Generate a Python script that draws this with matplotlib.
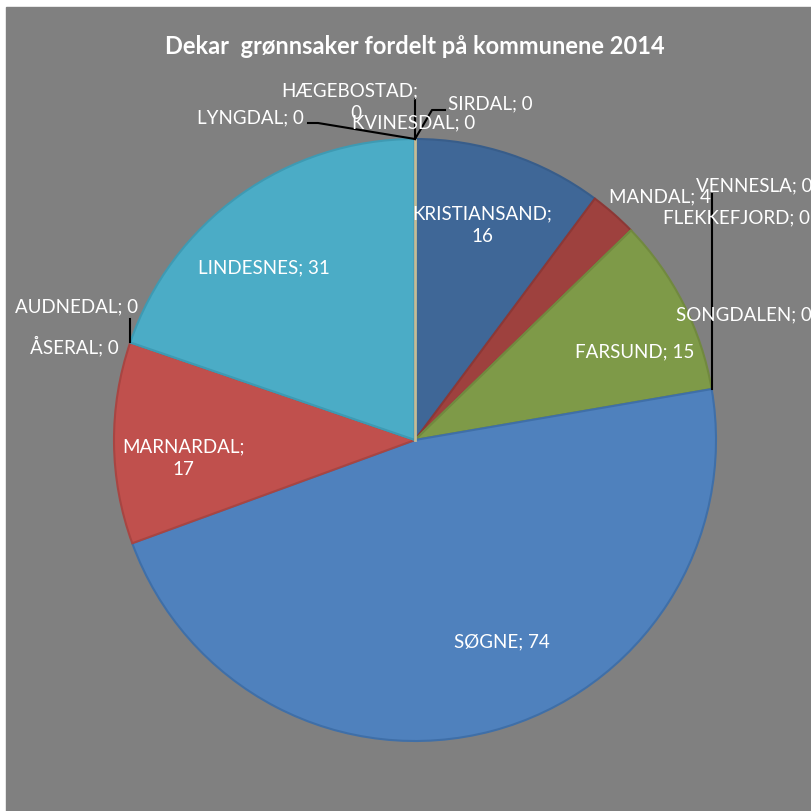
import matplotlib.pyplot as plt
import numpy as np

# data
kommuner = ['KRISTIANSAND', 'MANDAL', 'VENNESLA', 'FLEKKEFJORD', 'FARSUND', 'SONGDALEN',
            'SØGNE', 'MARNARDAL', 'ÅSERAL', 'AUDNEDAL', 'LINDESNES', 'LYNGDAL',
            'HÆGEBOSTAD', 'KVINESDAL', 'SIRDAL']
dekar = [16, 4, 0, 0, 15, 0, 74, 17, 0, 0, 31, 0, 0, 0, 0]
farger = ['#3F6797', '#9E413E', '#7E9A48', '#7E9A48', '#7E9A48', '#7E9A48',
          '#4F81BD', '#C0504D', '#C0504D', '#4BACC6', '#4BACC6', '#4BACC6',
          '#4BACC6', '#3F6797', '#3F6797']
kanter = ['#385D8A', '#8C3836', '#71893F', '#71893F', '#71893F', '#71893F',
          '#3F6FA8', '#A84542', '#A84542', '#3E9AB3', '#3E9AB3', '#3E9AB3',
          '#3E9AB3', '#385D8A', '#385D8A']

plt.rcParams['font.family'] = ['Lato', 'DejaVu Sans']

fig = plt.figure(figsize=(8.11, 8.12), dpi=100)
fig.patch.set_facecolor('white')
ax = fig.add_axes([0, 0, 1, 1])
ax.add_patch(plt.Rectangle((6, 8), 805, 804, color='#808080', zorder=0))

# pikselkoordinater, y nedover -> mot klokka i data blir med klokka på skjermen
cx, cy, r = 415, 441, 301
wedges, _ = ax.pie(dekar, colors=farger, center=(cx, cy), radius=r,
                   startangle=-90, counterclock=True, frame=True,
                   wedgeprops=dict(linewidth=1.5))
for w, k in zip(wedges, kanter):
    w.set_edgecolor(k)
ax.set_xlim(0, 811)
ax.set_ylim(812, 0)
ax.set_aspect('auto')
ax.axis('off')

cum = np.cumsum([0] + dekar)
tot = cum[-1]


def punkt(frac, rr=r):
    a = 2 * np.pi * frac
    return cx + rr * np.sin(a), cy - rr * np.cos(a)


# beige strek der nullskivene ligger
x0, y0 = punkt(0)
ax.plot([cx, x0], [cy, y0 + 1], color='#C4BD97', lw=2, zorder=5)

tkw = dict(color='white', fontsize=13.5, zorder=10)
lkw = dict(color='black', lw=1.5, zorder=6)

# etiketter inne i skivene
ax.text(482, 225, f'{kommuner[0]};\n{dekar[0]}', ha='center', va='center', linespacing=1.4, **tkw)
ax.text(635, 352, f'{kommuner[4]}; {dekar[4]}', ha='center', va='center', **tkw)
ax.text(502, 642, f'{kommuner[6]}; {dekar[6]}', ha='center', va='center', **tkw)
ax.text(183, 458, f'{kommuner[7]};\n{dekar[7]}', ha='center', va='center', linespacing=1.4, **tkw)
ax.text(264, 268, f'{kommuner[10]}; {dekar[10]}', ha='center', va='center', **tkw)

# etiketter utenfor
ax.text(660, 197, f'{kommuner[1]}; {dekar[1]}', ha='center', va='center', **tkw)
ax.text(813, 186, f'{kommuner[2]}; {dekar[2]}', ha='right', va='center', **tkw)
ax.text(810, 218, f'{kommuner[3]}; {dekar[3]}', ha='right', va='center', **tkw)
ax.text(812, 315, f'{kommuner[5]}; {dekar[5]}', ha='right', va='center', **tkw)
ax.text(119, 346, f'{kommuner[8]}; {dekar[8]}', ha='right', va='center', **tkw)
ax.text(138, 307, f'{kommuner[9]}; {dekar[9]}', ha='right', va='center', **tkw)
ax.text(304, 118, f'{kommuner[11]}; {dekar[11]}', ha='right', va='center', **tkw)
ax.text(350, 102, f'{kommuner[12]};\n   {dekar[12]}', ha='center', va='center', linespacing=1.4, **tkw)
ax.text(414, 123, f'{kommuner[13]}; {dekar[13]}', ha='center', va='center', **tkw)
ax.text(448, 104, f'{kommuner[14]}; {dekar[14]}', ha='left', va='center', **tkw)

# hjelpelinjer
xs, ys = punkt(cum[6] / tot)
ax.plot([xs, xs], [ys, 195], **lkw)
xa, ya = punkt(cum[9] / tot)
ax.plot([xa, xa], [ya, 320], **lkw)
ax.plot([x0, x0], [y0, 100], **lkw)
ax.plot([x0, 318, 308], [y0, 124, 124], **lkw)
ax.plot([x0, 432, 445], [y0, 111, 111], **lkw)

ax.text(415, 46, 'Dekar  grønnsaker fordelt på kommunene 2014', ha='center', va='center',
        color='white', fontsize=17, fontweight='bold')

fig.savefig('out.png', dpi=100)
